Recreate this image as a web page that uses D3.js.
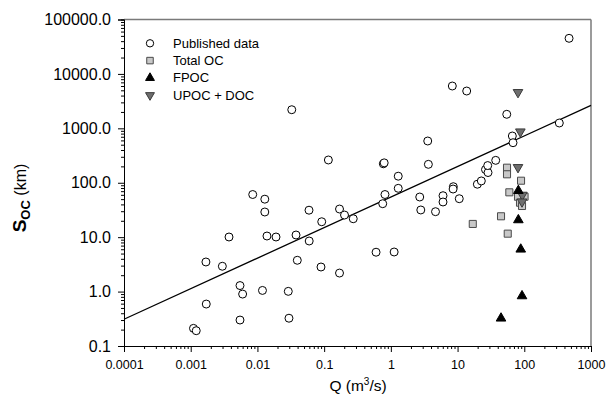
<!DOCTYPE html>
<html><head><meta charset="utf-8">
<script src="https://cdn.jsdelivr.net/npm/d3@7"></script>
<style>body{margin:0;background:#fff}svg{display:block}text{font-family:"Liberation Sans",Arial,sans-serif}</style>
</head><body>
<svg id="c" width="606" height="404"></svg>
<script>
// ---- data ----
const publishedQ = [0.00110,0.00121,0.00171,0.00169,0.00298,0.00375,0.00548,0.0060,0.00548,0.0085,0.0129,0.0129,0.0119,0.0139,0.0190,0.0327,0.0297,0.0290,0.0379,0.0396,0.0593,0.0597,0.0897,0.092,0.1157,0.170,0.202,0.273,0.170,0.600,1.12,0.755,0.816,0.771,0.794,1.29,1.29,2.71,2.81,3.57,3.65,4.67,6.05,6.05,8.34,13.7,8.64,8.57,10.6,19.8,22.7,26.2,28.6,28.3,37.3,54.6,66.2,67.8,335,469];
const publishedS = [0.211,0.191,0.59,3.5,2.92,10.07,1.29,0.90,0.30,60.8,49.9,29.0,1.05,10.5,10.07,2198,0.324,1.01,10.96,3.76,31.3,8.5,2.83,19.2,262,32.9,25.5,21.8,2.19,5.29,5.34,41.2,60.8,223,232,132,79,54.7,31.6,585,218,29.4,57.8,44.3,5995,4850,84.6,76.7,50.9,94,108,175,154,207,258,1811,723,544,1253,45100];
const totalOCQ = [55.1,55.1,89.4,59.7,80.5,100.9,86.3,92.5,44.8,16.9,56.5];
const totalOCS = [189,143,109,66.7,55.4,55.4,43.0,37.4,24.2,17.5,11.6];
const fpocQ = [81.5,81.5,88.5,92.5,44.8];
const fpocS = [71.4,20.7,5.98,0.83,0.323];
const upocQ = [80.5,87.3,80.5,93.5,92.5];
const upocS = [4590,867,192,59.5,44.8];
const fitQ = [0.0001,1000];
const fitS = [0.31,2640];
const xTicks = [0.0001,0.001,0.01,0.1,1,10,100,1000];
const xTickLabels = ["0.0001","0.001","0.01","0.1","1","10","100","1000"];
const yTicks = [0.1,1,10,100,1000,10000,100000];
const yTickLabels = ["0.1","1.0","10.0","100.0","1000.0","10000.0","100000.0"];
const legendLabels = ["Published data","Total OC","FPOC","UPOC + DOC"];

// ---- layout ----
const svg = d3.select("#c");
const L=124,R=591,T=19.5,B=346;
const x = d3.scaleLog().domain([0.0001,1000]).range([L,R]);
const y = d3.scaleLog().domain([0.1,100000]).range([B,T]);

function minors(lo,hi){const a=[];for(let e=lo;e<hi;e++)for(let k=2;k<=9;k++)a.push(k*Math.pow(10,e));return a;}

// frame top/right
svg.append("line").attr("x1",L).attr("x2",R).attr("y1",T).attr("y2",T).attr("stroke","#7a7a7a").attr("stroke-width",1.5);
svg.append("line").attr("x1",R).attr("x2",R).attr("y1",T).attr("y2",B).attr("stroke","#7a7a7a").attr("stroke-width",1.5);

// x axis
const gx = svg.append("g").attr("transform",`translate(0,${B})`);
gx.call(d3.axisBottom(x).tickValues(xTicks).tickSize(6).tickFormat((d,i)=>xTickLabels[i]));
gx.append("g").call(d3.axisBottom(x).tickValues(minors(-4,3)).tickSize(3).tickFormat(""));
gx.selectAll(".domain").attr("stroke","#000");
gx.selectAll("text").attr("font-size",12.5).attr("fill","#000").attr("dy",null).attr("y",23);
// y axis
const gy = svg.append("g").attr("transform",`translate(${L},0)`);
gy.call(d3.axisLeft(y).tickValues(yTicks).tickSize(6).tickFormat((d,i)=>yTickLabels[i]));
gy.append("g").call(d3.axisLeft(y).tickValues(minors(-1,5)).tickSize(3).tickFormat(""));
gy.selectAll("text").attr("font-size",16).attr("fill","#000").attr("x",-13);
svg.selectAll(".domain").attr("stroke-width",1);

// fit line
svg.append("path").datum(fitQ.map((q,i)=>[q,fitS[i]]))
  .attr("d",d3.line().x(d=>x(d[0])).y(d=>y(d[1])))
  .attr("stroke","#000").attr("stroke-width",1.3).attr("fill","none");

const sym = {
  circle:{t:d3.symbolCircle,s:50,fill:"#fff",stroke:"#000"},
  square:{t:d3.symbolSquare,s:50,fill:"#c8c8c8",stroke:"#4a4a4a"},
  up:{t:d3.symbolTriangle,s:40,fill:"#000",stroke:"#000"},
  down:{t:d3.symbolTriangle,s:40,fill:"#6e6e6e",stroke:"#3a3a3a",rot:180}
};
function draw(Q,S,k){
  const s=sym[k];
  svg.append("g").selectAll("path").data(Q.map((q,i)=>[q,S[i]])).join("path")
    .attr("d",d3.symbol(s.t,s.s))
    .attr("transform",d=>`translate(${x(d[0])},${y(d[1])})${s.rot?" rotate(180)":""}`)
    .attr("fill",s.fill).attr("stroke",s.stroke).attr("stroke-width",1);
}
draw(publishedQ,publishedS,"circle");
draw(totalOCQ,totalOCS,"square");
draw(upocQ,upocS,"down");
draw(fpocQ,fpocS,"up");

// legend
const keys=["circle","square","up","down"];
const lg=svg.append("g");
legendLabels.forEach((lab,i)=>{
  const s=sym[keys[i]], yy=43.3+i*17.3;
  lg.append("path").attr("d",d3.symbol(s.t,s.s*0.85)).attr("transform",`translate(150,${yy})${s.rot?" rotate(180)":""}`)
    .attr("fill",s.fill).attr("stroke",s.stroke).attr("stroke-width",1);
  lg.append("text").attr("x",173).attr("y",yy+4.5).attr("font-size",13).text(lab);
});

// axis titles
const xt=svg.append("text").attr("x",358).attr("y",391).attr("text-anchor","middle").attr("font-size",15.5);
xt.append("tspan").text("Q (m");
xt.append("tspan").attr("font-size",10).attr("dy",-6).text("3");
xt.append("tspan").attr("dy",6).text("/s)");
const yt=svg.append("text").attr("transform","translate(26,198) rotate(-90)").attr("text-anchor","middle").attr("font-size",16);
yt.append("tspan").attr("font-weight","bold").attr("font-size",19).text("S");
yt.append("tspan").attr("font-weight","bold").attr("font-size",13).attr("dy",4).text("OC");
yt.append("tspan").attr("dy",-4).text(" (km)");
</script>
</body></html>
